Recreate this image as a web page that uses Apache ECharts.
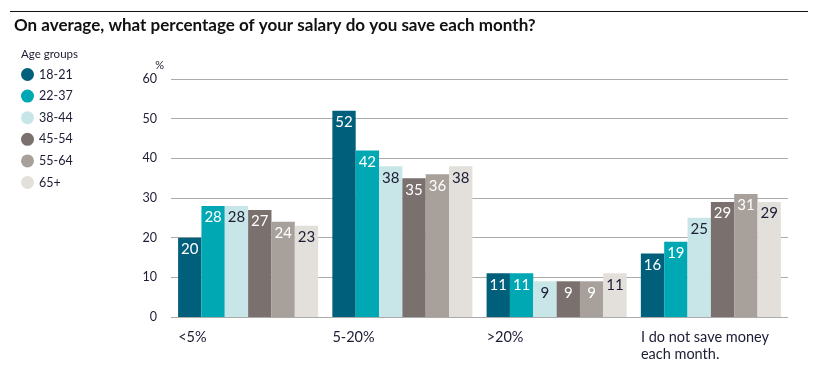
<!DOCTYPE html>
<html><head><meta charset="utf-8">
<script src="https://cdn.jsdelivr.net/npm/echarts@6/dist/echarts.min.js"></script>
<style>html,body{margin:0;padding:0;background:#fff}#c{width:817px;height:384px}</style>
</head><body><div id="c"></div>
<script>
var categories = ['<5%', '5-20%', '>20%', 'I do not save money\neach month.'];
var groups = ['18-21', '22-37', '38-44', '45-54', '55-64', '65+'];
var v1821 = [20, 52, 11, 16];
var v2237 = [28, 42, 11, 19];
var v3844 = [28, 38, 9, 25];
var v4554 = [27, 35, 9, 29];
var v5564 = [24, 36, 9, 31];
var v65 = [23, 38, 11, 29];
var yTicks = [0, 10, 20, 30, 40, 50, 60];

var values = [v1821, v2237, v3844, v4554, v5564, v65];
var colors = ['#005F7B', '#00A8B4', '#C8E6E7', '#7A716E', '#A8A09B', '#E3E0DB'];
var labelColors = ['#fff', '#fff', '#1c1c34', '#fff', '#fff', '#1c1c34'];
var font = 'Lato';
var dark = '#1c1c34';

var chart = echarts.init(document.getElementById('c'));
chart.setOption({
  animation: false,
  textStyle: {fontFamily: font},
  title: [
    {text: 'On average, what percentage of your salary do you save each month?', left: 9, top: 12,
     textStyle: {fontFamily: font, fontSize: 17, fontWeight: 'bold', color: '#111'}},
    {text: 'Age groups', left: 16, top: 43, textStyle: {fontFamily: font, fontSize: 11.5, fontWeight: 'normal', color: dark}}
  ],
  graphic: [{type: 'line', shape: {x1: 10, y1: 11.5, x2: 808, y2: 11.5}, style: {stroke: '#111', lineWidth: 1.2}}],
  legend: {
    orient: 'vertical', left: 16, top: 63, icon: 'circle', itemWidth: 13, itemHeight: 13, itemGap: 8.6,
    data: groups, textStyle: {fontFamily: font, fontSize: 12.5, color: dark}
  },
  grid: {left: 171, right: 29, top: 79, bottom: 67, containLabel: false},
  xAxis: {
    type: 'category', data: categories,
    axisLine: {show: false}, axisTick: {show: false},
    axisLabel: {
      interval: 0, margin: 12, align: 'center',
      formatter: function (v) { return v.split('\n').map(function (s) { return '{a|' + s + '}'; }).join('\n'); },
      rich: {a: {width: 140, align: 'left', fontFamily: font, fontSize: 14.5, color: dark, lineHeight: 17}}
    }
  },
  yAxis: {
    type: 'value', min: yTicks[0], max: yTicks[yTicks.length - 1], interval: 10,
    name: '%', nameLocation: 'end', nameGap: 8,
    nameTextStyle: {fontFamily: font, fontSize: 11, color: dark, align: 'right', padding: [0, 7, 0, 0]},
    axisLine: {show: false}, axisTick: {show: false},
    axisLabel: {fontFamily: font, fontSize: 12.5, color: dark, margin: 14},
    splitLine: {lineStyle: {color: '#ababab', width: 1.2}}
  },
  series: groups.map(function (g, i) {
    return {
      name: g, type: 'bar', data: values[i], barGap: '0%', barCategoryGap: '9.2%',
      itemStyle: {color: colors[i]},
      label: {show: true, position: 'insideTop', distance: 4, color: labelColors[i],
              fontFamily: font, fontSize: 15}
    };
  })
});
</script></body></html>
